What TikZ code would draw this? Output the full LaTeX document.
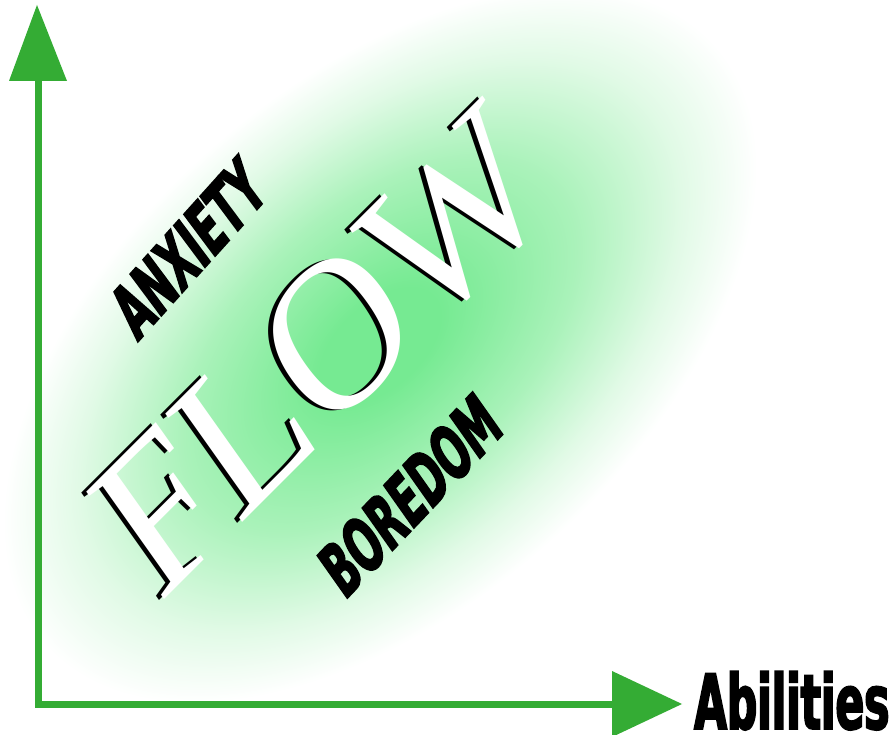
\documentclass[tikz,border=0pt]{standalone}
\usepackage{fontspec}
\setmainfont{Liberation Serif}
\newfontfamily\impactfont{DejaVu Sans}[FakeStretch=0.58,FakeBold=2.5]
\definecolor{axisgreen}{RGB}{52,172,52}
\definecolor{glowgreen}{RGB}{118,234,146}
\definecolor{glowmid}{RGB}{170,242,186}
\definecolor{glowout}{RGB}{225,250,230}
\pgfdeclareradialshading{glow}{\pgfpointorigin}{color(0bp)=(glowgreen); color(4bp)=(glowgreen); color(13bp)=(glowmid); color(20bp)=(glowout); color(25bp)=(white); color(50bp)=(white)}
\tikzset{
  axisline/.style={draw=axisgreen, line width=7pt},
  axishead/.style={fill=axisgreen},
  flowtext/.style={font=\fontsize{200}{200}\selectfont, inner sep=0pt},
  flowfront/.style={flowtext, text=white},
  flowback/.style={flowtext, text=black},
  labeltext/.style={font=\impactfont\bfseries\fontsize{70}{70}\selectfont, inner sep=0pt, text=black},
}
\begin{document}
\begin{tikzpicture}[x=1pt,y=-1pt]
\useasboundingbox (0,0) rectangle (895,735);
\fill[white] (0,0) rectangle (895,735);
% glow
\shade[shading=glow, transform canvas={shift={(380,345)}, rotate=42}] (0,0) ellipse [x radius=450pt, y radius=260pt];
% FLOW
\begin{scope}[shift={(317,352)}, rotate=45, xslant=0.17, transform shape]
  \node[flowback] (flowshadow) at (0,0) {FLOW};
\end{scope}
\begin{scope}[shift={(322,351)}, rotate=45, xslant=0.17, transform shape]
  \node[flowfront] (flow) at (0,0) {FLOW};
\end{scope}
% ANXIETY
\begin{scope}[shift={(188,248)}, rotate=48, xslant=0.2, transform shape]
  \node[labeltext] (anxiety) at (0,0) {ANXIETY};
\end{scope}
% BOREDOM
\begin{scope}[shift={(410,495)}, rotate=46.5, xslant=0.2, transform shape]
  \node[labeltext] (boredom) at (0,0) {BOREDOM};
\end{scope}
% axes
\coordinate (ybase) at (38,81);
\coordinate (ytip) at (37,5);
\coordinate (xbase) at (612,704);
\coordinate (xtip) at (682,704);
\draw[axisline] (ybase) |- (xbase);
\fill[axishead] (9,81) -- (ytip) -- (67,81) -- cycle;
\fill[axishead] (612,671) -- (xtip) -- (612,737) -- cycle;
\node[labeltext, font=\impactfont\bfseries\fontsize{76}{76}\selectfont, anchor=base west, xscale=0.96] (abilities) at (694,729) {Abilities};
\end{tikzpicture}
\end{document}
